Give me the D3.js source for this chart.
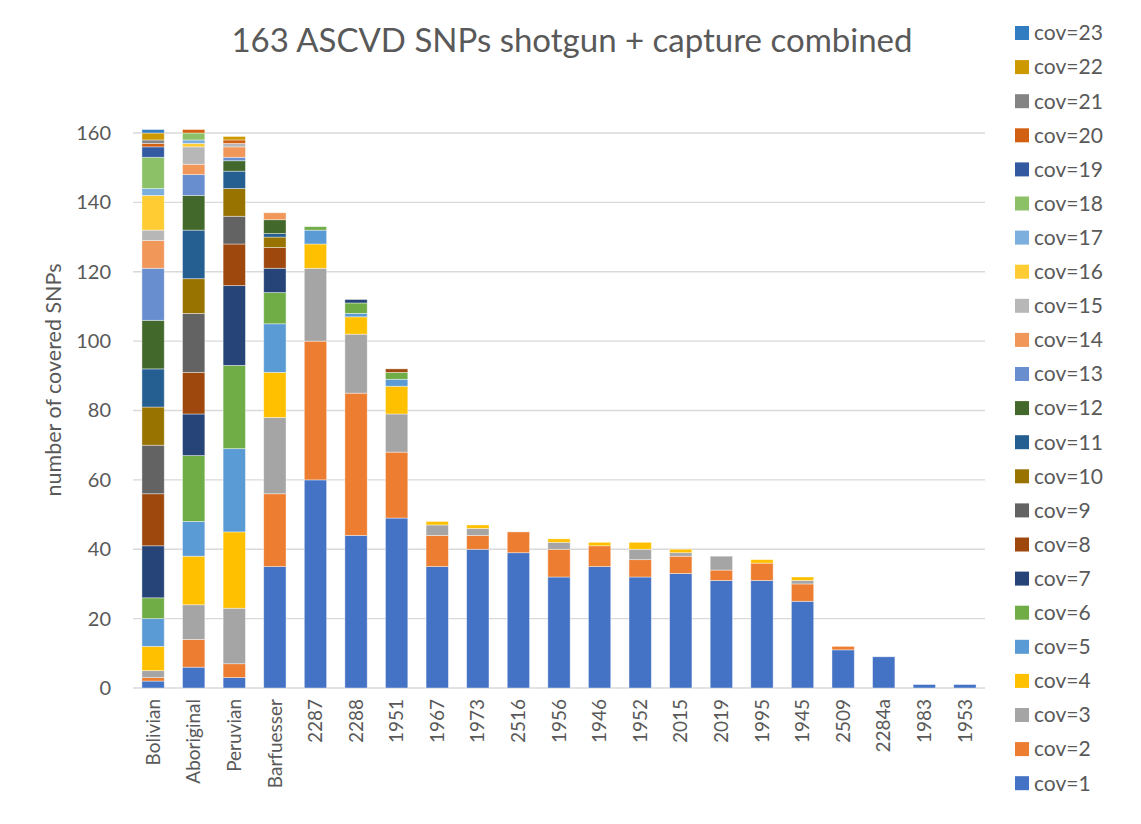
<!DOCTYPE html>
<html><head><meta charset="utf-8">
<script src="https://cdn.jsdelivr.net/npm/d3@7"></script>
<style>body{margin:0;background:#fff;} text{font-family:Lato, "Liberation Sans", sans-serif;}</style>
</head><body>
<svg id="chart" width="1141" height="824"></svg>
<script>
const categories = ["Bolivian","Aboriginal","Peruvian","Barfuesser","2287","2288","1951","1967","1973","2516","1956","1946","1952","2015","2019","1995","1945","2509","2284a","1983","1953"];
const cov1  = [2,6,3,35,60,44,49,35,40,39,32,35,32,33,31,31,25,11,9,1,1];
const cov2  = [1,8,4,21,40,41,19,9,4,6,8,6,5,5,3,5,5,1,0,0,0];
const cov3  = [2,10,16,22,21,17,11,3,2,0,2,0,3,1,4,0,1,0,0,0,0];
const cov4  = [7,14,22,13,7,5,8,1,1,0,1,1,2,1,0,1,1,0,0,0,0];
const cov5  = [8,10,24,14,4,1,2,0,0,0,0,0,0,0,0,0,0,0,0,0,0];
const cov6  = [6,19,24,9,1,3,2,0,0,0,0,0,0,0,0,0,0,0,0,0,0];
const cov7  = [15,12,23,7,0,1,0,0,0,0,0,0,0,0,0,0,0,0,0,0,0];
const cov8  = [15,12,12,6,0,0,1,0,0,0,0,0,0,0,0,0,0,0,0,0,0];
const cov9  = [14,17,8,0,0,0,0,0,0,0,0,0,0,0,0,0,0,0,0,0,0];
const cov10 = [11,10,8,3,0,0,0,0,0,0,0,0,0,0,0,0,0,0,0,0,0];
const cov11 = [11,14,5,1,0,0,0,0,0,0,0,0,0,0,0,0,0,0,0,0,0];
const cov12 = [14,10,3,4,0,0,0,0,0,0,0,0,0,0,0,0,0,0,0,0,0];
const cov13 = [15,6,1,0,0,0,0,0,0,0,0,0,0,0,0,0,0,0,0,0,0];
const cov14 = [8,3,3,2,0,0,0,0,0,0,0,0,0,0,0,0,0,0,0,0,0];
const cov15 = [3,5,1,0,0,0,0,0,0,0,0,0,0,0,0,0,0,0,0,0,0];
const cov16 = [10,1,0,0,0,0,0,0,0,0,0,0,0,0,0,0,0,0,0,0,0];
const cov17 = [2,1,0,0,0,0,0,0,0,0,0,0,0,0,0,0,0,0,0,0,0];
const cov18 = [9,2,0,0,0,0,0,0,0,0,0,0,0,0,0,0,0,0,0,0,0];
const cov19 = [3,0,0,0,0,0,0,0,0,0,0,0,0,0,0,0,0,0,0,0,0];
const cov20 = [1,1,1,0,0,0,0,0,0,0,0,0,0,0,0,0,0,0,0,0,0];
const cov21 = [1,0,0,0,0,0,0,0,0,0,0,0,0,0,0,0,0,0,0,0,0];
const cov22 = [2,0,1,0,0,0,0,0,0,0,0,0,0,0,0,0,0,0,0,0,0];
const cov23 = [1,0,0,0,0,0,0,0,0,0,0,0,0,0,0,0,0,0,0,0,0];
const seriesNames = ["cov=1","cov=2","cov=3","cov=4","cov=5","cov=6","cov=7","cov=8","cov=9","cov=10","cov=11","cov=12","cov=13","cov=14","cov=15","cov=16","cov=17","cov=18","cov=19","cov=20","cov=21","cov=22","cov=23"];
const seriesValues = [cov1,cov2,cov3,cov4,cov5,cov6,cov7,cov8,cov9,cov10,cov11,cov12,cov13,cov14,cov15,cov16,cov17,cov18,cov19,cov20,cov21,cov22,cov23];
const colors = ["#4472C4","#ED7D31","#A5A5A5","#FFC000","#5B9BD5","#70AD47","#264478","#9E480E","#636363","#997300","#255E91","#43682B","#698ED0","#F1975A","#B7B7B7","#FFCD33","#7CAFDD","#8CC168","#335AA1","#D26012","#848484","#CC9A00","#327DC2"];
const yTicks = [0,20,40,60,80,100,120,140,160];
const title = "163 ASCVD SNPs shotgun + capture combined";
const yTitle = "number of covered SNPs";

const svg = d3.select("#chart");
const pLeft = 133, pRight = 985, pTop = 133, pBottom = 688;
const x = d3.scaleBand().domain(categories).range([pLeft, pRight]).paddingInner(0.45).paddingOuter(0.22);
const y = d3.scaleLinear().domain([0,160]).range([pBottom, pTop]);
const textColor = "#595959";
const ff = "Lato, 'Liberation Sans', sans-serif";

// gridlines
svg.append("g").selectAll("line").data(yTicks).join("line")
  .attr("x1", pLeft).attr("x2", pRight)
  .attr("y1", d=>y(d)).attr("y2", d=>y(d))
  .attr("stroke", "#D9D9D9").attr("stroke-width", 1.3);

// y axis labels
const yAxis = svg.append("g").attr("transform", `translate(${pLeft},0)`)
  .call(d3.axisLeft(y).tickValues(yTicks).tickSize(0).tickPadding(22));
yAxis.select(".domain").remove();
yAxis.selectAll("text").attr("font-size", 20).attr("fill", textColor).style("font-family", ff);

// stack
const table = categories.map((c,i)=>{const o={cat:c}; seriesNames.forEach((s,j)=>o[s]=seriesValues[j][i]); return o;});
const stacked = d3.stack().keys(seriesNames)(table);
svg.append("g").selectAll("g").data(stacked).join("g")
  .attr("fill", (d,i)=>colors[i])
  .selectAll("rect").data(d=>d.filter(v=>v[1]-v[0]>0)).join("rect")
  .attr("x", d=>x(d.data.cat)).attr("width", x.bandwidth())
  .attr("y", d=>y(d[1])).attr("height", d=>y(d[0])-y(d[1]))
  .attr("stroke", "#ffffff").attr("stroke-opacity", 0.5).attr("stroke-width", 0.8);

// x labels
const xAxis = svg.append("g").attr("transform", `translate(0,${pBottom})`)
  .call(d3.axisBottom(x).tickSize(0).tickPadding(0));
xAxis.select(".domain").remove();
xAxis.selectAll("text")
  .attr("transform", "rotate(-90)")
  .attr("x", -11).attr("y", 0).attr("dy", "0.35em")
  .attr("text-anchor", "end")
  .attr("font-size", 19).attr("fill", textColor).style("font-family", ff);

// title
svg.append("text").attr("x", 572).attr("y", 52).attr("text-anchor", "middle")
  .attr("font-size", 33).attr("fill", textColor).text(title);

// y title
svg.append("text").attr("transform", "translate(61,380) rotate(-90)")
  .attr("text-anchor", "middle").attr("font-size", 21.5).attr("fill", textColor).text(yTitle);

// legend
const legendOrder = seriesNames.map((s,i)=>({name:s, color:colors[i]})).reverse();
const lg = svg.append("g").selectAll("g").data(legendOrder).join("g")
  .attr("transform", (d,i)=>`translate(1015,${33 + i*34.1})`);
lg.append("rect").attr("x",0).attr("y",-7).attr("width",14).attr("height",14).attr("fill", d=>d.color);
lg.append("text").attr("x", 19).attr("y", 0).attr("dy","0.35em").attr("font-size", 21)
  .attr("fill", textColor).text(d=>d.name);
</script>
</body></html>
